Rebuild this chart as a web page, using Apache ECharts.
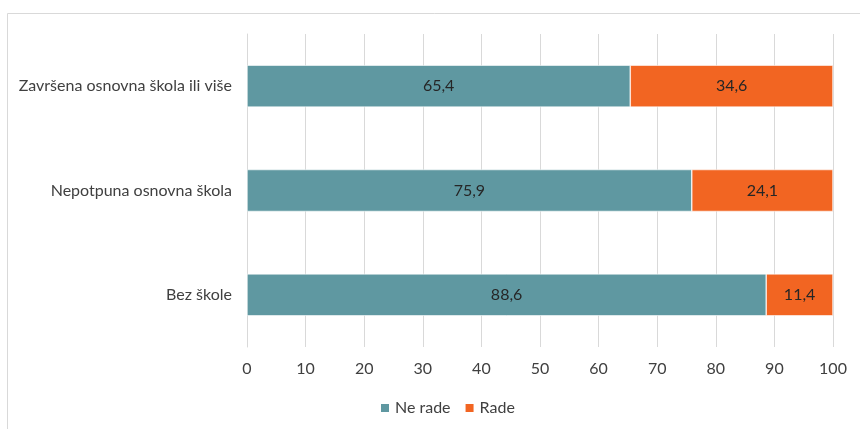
<!DOCTYPE html>
<html><head><meta charset="utf-8">
<script src="https://cdn.jsdelivr.net/npm/echarts@6/dist/echarts.min.js"></script>
<style>html,body{margin:0;padding:0;background:#fff}#c{width:860px;height:429px}</style>
</head><body><div id="c"></div>
<script>
const categories = ['Bez škole', 'Nepotpuna osnovna škola', 'Završena osnovna škola ili više'];
const neRade = [88.6, 75.9, 65.4];
const rade = [11.4, 24.1, 34.6];
const seriesNames = ['Ne rade', 'Rade'];
const xTicks = [0, 10, 20, 30, 40, 50, 60, 70, 80, 90, 100];

const chart = echarts.init(document.getElementById('c'), null, {renderer: 'canvas'});
const fmt = p => p.value.toFixed(1).replace('.', ',');
const font = 'Lato, "Open Sans", sans-serif';
chart.setOption({
  animation: false,
  backgroundColor: '#fff',
  textStyle: {fontFamily: font},
  graphic: [{type: 'rect', shape: {x: 7.5, y: 13.5, width: 900, height: 500}, style: {fill: 'none', stroke: '#d9d9d9', lineWidth: 1}, silent: true}],
  grid: {left: 247, right: 27, top: 34, bottom: 82},
  legend: {
    data: seriesNames, bottom: 8, left: 374, itemWidth: 10, itemHeight: 10, itemGap: 13, icon: 'rect',
    textStyle: {fontSize: 16, color: '#404040', fontFamily: font}
  },
  xAxis: {
    type: 'value', min: xTicks[0], max: xTicks[xTicks.length - 1], interval: 10,
    axisLine: {show: false}, axisTick: {show: false},
    splitLine: {lineStyle: {color: '#d9d9d9', width: 1}},
    axisLabel: {fontSize: 16, color: '#404040', margin: 14, fontFamily: font}
  },
  yAxis: {
    type: 'category', data: categories,
    axisLine: {show: true, lineStyle: {color: '#d9d9d9'}}, axisTick: {show: false},
    axisLabel: {fontSize: 16, color: '#404040', margin: 15, fontFamily: font}
  },
  series: [
    {name: seriesNames[0], type: 'bar', stack: 'a', data: neRade, barWidth: 42,
     itemStyle: {color: '#5F98A1', borderColor: '#fff', borderWidth: 0.6},
     label: {show: true, position: 'inside', formatter: fmt, fontSize: 16, color: '#262626', fontFamily: font}},
    {name: seriesNames[1], type: 'bar', stack: 'a', data: rade, barWidth: 42,
     itemStyle: {color: '#F26522', borderColor: '#fff', borderWidth: 0.6},
     label: {show: true, position: 'inside', formatter: fmt, fontSize: 16, color: '#262626', fontFamily: font}}
  ]
});
</script></body></html>
